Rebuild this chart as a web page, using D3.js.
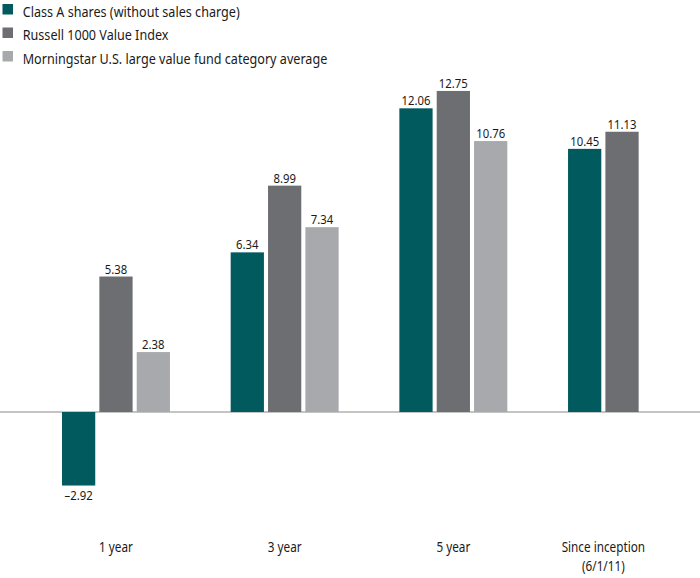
<!DOCTYPE html>
<html><head><meta charset="utf-8">
<script src="https://cdn.jsdelivr.net/npm/d3@7"></script>
<style>body{margin:0;background:#fff}svg{display:block}
text{font-family:"Noto Sans","Open Sans",sans-serif;fill:#1a1a1a}</style>
</head><body><svg id="c" width="700" height="578"></svg>
<script>
const categories = ["1 year", "3 year", "5 year", "Since inception\n(6/1/11)"];
const seriesNames = ["Class A shares (without sales charge)", "Russell 1000 Value Index", "Morningstar U.S. large value fund category average"];
const classA = [-2.92, 6.34, 12.06, 10.45];
const russell = [5.38, 8.99, 12.75, 11.13];
const morningstar = [2.38, 7.34, 10.76, null];
const colors = ["#005a5e", "#6d6e71", "#a7a9ac"];

const SX = 0.84; // condensed look
const svg = d3.select("#c");
const values = [classA, russell, morningstar];
const x0 = d3.scaleBand().domain(categories).range([62, 676]).paddingInner(0.36).paddingOuter(0);
const x1 = d3.scaleBand().domain(d3.range(seriesNames.length)).range([0, x0.bandwidth()]).paddingInner(0.11);
const y = d3.scaleLinear().domain([-4, 14]).range([412 + 4 * 25.18, 412 - 14 * 25.18]);

function label(parent, x, yy, txt, size, anchor) {
  return parent.append("text")
    .attr("transform", `translate(${x},${yy}) scale(${SX},1)`)
    .attr("text-anchor", anchor || "middle").attr("font-size", size).text(txt);
}

svg.append("line").attr("x1", 0).attr("x2", 700).attr("y1", y(0)).attr("y2", y(0))
  .attr("stroke", "#8a8a8a").attr("stroke-width", 1.2);

const fmt = v => (v < 0 ? "\u2013" : "") + Math.abs(v).toFixed(2);

categories.forEach((cat, ci) => {
  const g = svg.append("g").attr("transform", `translate(${x0(cat)},0)`);
  const centers = [];
  values.forEach((arr, si) => {
    const v = arr[ci];
    if (v == null) return;
    const bx = x1(si), bw = x1.bandwidth();
    centers.push(x0(cat) + bx + bw / 2);
    g.append("rect").attr("x", bx).attr("width", bw)
      .attr("y", Math.min(y(v), y(0))).attr("height", Math.abs(y(v) - y(0)))
      .attr("fill", colors[si]);
    label(g, bx + bw / 2, v >= 0 ? y(v) - 3 : y(v) + 14, fmt(v), 13.5);
  });
  const cx = d3.mean(centers);
  cat.split("\n").forEach((l, i) => label(svg, cx, 552 + i * 19, l, 14));
});

seriesNames.forEach((n, i) => {
  svg.append("rect").attr("x", 2.5).attr("y", 4 + i * 23.5).attr("width", 10.5).attr("height", 10.5).attr("fill", colors[i]);
  label(svg, 22.7, 16.5 + i * 23.5, n, 15, "start");
});
</script></body></html>
